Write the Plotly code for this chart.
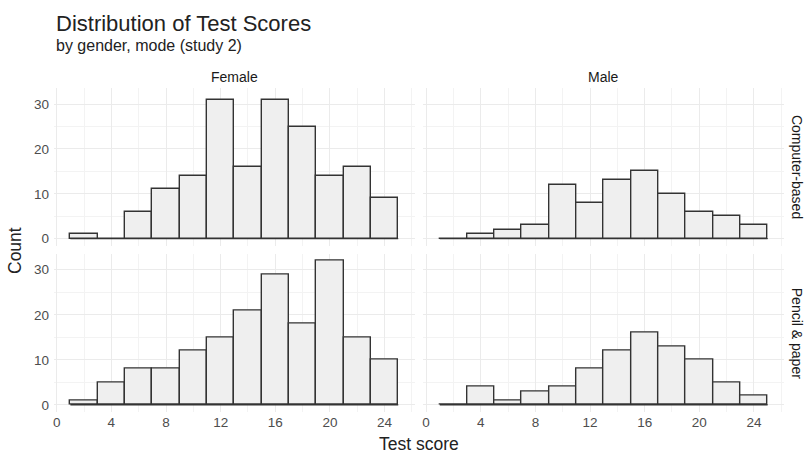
import plotly.graph_objects as go

bins = [2, 4, 6, 8, 10, 12, 14, 16, 18, 20, 22, 24]
female_cb = [1, 0, 6, 11, 14, 31, 16, 31, 25, 14, 16, 9]
male_cb = [0, 1, 2, 3, 12, 8, 13, 15, 10, 6, 5, 3]
female_pp = [1, 5, 8, 8, 12, 15, 21, 29, 18, 32, 15, 10]
male_pp = [0, 4, 1, 3, 4, 8, 12, 16, 13, 10, 5, 2]

genders = ["Female", "Male"]
modes = ["Computer-based", "Pencil & paper"]
x_ticks = [0, 4, 8, 12, 16, 20, 24]
y_ticks = [0, 10, 20, 30]
bin_width = 2

panels = [
    (female_cb, "x", "y"),
    (male_cb, "x2", "y2"),
    (female_pp, "x3", "y3"),
    (male_pp, "x4", "y4"),
]

fig = go.Figure()
for vals, xa, ya in panels:
    fig.add_trace(go.Bar(
        x=bins, y=vals, width=bin_width, xaxis=xa, yaxis=ya,
        marker=dict(color="#EFEFEF", line=dict(color="#333333", width=1.4)),
        showlegend=False, hoverinfo="x+y",
    ))
    # baseline of the histogram (bottom edges of all bins, incl. empty ones)
    fig.add_trace(go.Scatter(
        x=[bins[0] - bin_width / 2, bins[-1] + bin_width / 2], y=[0, 0],
        xaxis=xa, yaxis=ya, mode="lines",
        line=dict(color="#333333", width=1.4), showlegend=False, hoverinfo="skip",
    ))

FONT = "Liberation Sans, Arial, sans-serif"
grid = "#EBEBEB"
minor = dict(dtick=2, showgrid=True, gridcolor="#F3F3F3", gridwidth=0.6, ticklen=0)
yminor = dict(dtick=5, showgrid=True, gridcolor="#F3F3F3", gridwidth=0.6, ticklen=0)
TICKFONT = dict(family=FONT, size=13.5, color="#4D4D4D")

xl = [0, 0.494]
xr = [0.506, 1]
yt = [0.513, 1]
yb = [0, 0.489]

def xax(dom, anchor, labels):
    return dict(domain=dom, anchor=anchor, range=[-0.2, 26.2], tickvals=x_ticks,
                showticklabels=labels, gridcolor=grid, gridwidth=1, zeroline=False,
                showline=False, ticks="", minor=minor, automargin=False,
                tickfont=TICKFONT, fixedrange=True)

def yax(dom, anchor, labels):
    return dict(domain=dom, anchor=anchor, range=[-1.6, 33.6], tickvals=y_ticks,
                showticklabels=labels, gridcolor=grid, gridwidth=1, zeroline=False,
                showline=False, ticks="", minor=yminor, ticklabelstandoff=4,
                automargin=False, tickfont=TICKFONT, fixedrange=True)

fig.update_layout(
    width=804, height=455,
    margin=dict(l=54, r=20, t=88, b=43),
    paper_bgcolor="white", plot_bgcolor="white",
    bargap=0,
    font=dict(family=FONT, color="#222222"),
    xaxis=xax(xl, "y", False),
    xaxis2=xax(xr, "y2", False),
    xaxis3=xax(xl, "y3", True),
    xaxis4=xax(xr, "y4", True),
    yaxis=yax(yt, "x", True),
    yaxis2=yax(yt, "x2", False),
    yaxis3=yax(yb, "x3", True),
    yaxis4=yax(yb, "x4", False),
)

W = 730.0
H = 324.0
BOTTOM = 455 - 43


def py(pix):
    return (BOTTOM - pix) / H


def px(pix):
    return (pix - 54) / W


ann = [
    dict(text="Distribution of Test Scores", x=px(54), y=py(23), xanchor="left",
         font=dict(family=FONT, size=22, color="#222222")),
    dict(text="by gender, mode (study 2)", x=px(54), y=py(45), xanchor="left",
         font=dict(family=FONT, size=16, color="#222222")),
]
for g, dom in zip(genders, [xl, xr]):
    ann.append(dict(text=g, x=(dom[0] + dom[1]) / 2, y=py(77), xanchor="center",
                    font=dict(family=FONT, size=14, color="#1A1A1A")))
for m, dom in zip(modes, [yt, yb]):
    ann.append(dict(text=m, x=px(797), y=(dom[0] + dom[1]) / 2, xanchor="center",
                    textangle=90, font=dict(family=FONT, size=14, color="#1A1A1A")))
ann.append(dict(text="Count", x=px(15), y=py(251), xanchor="center", textangle=-90,
                font=dict(family=FONT, size=17.5, color="#222222")))
ann.append(dict(text="Test score", x=px(419), y=py(444), xanchor="center",
                font=dict(family=FONT, size=17.5, color="#222222")))
for a in ann:
    a.update(xref="paper", yref="paper", yanchor="middle", showarrow=False)
fig.update_layout(annotations=ann)

fig.write_html("out.html", config={"displayModeBar": False},
               post_script="document.body.style.margin='0px';")
